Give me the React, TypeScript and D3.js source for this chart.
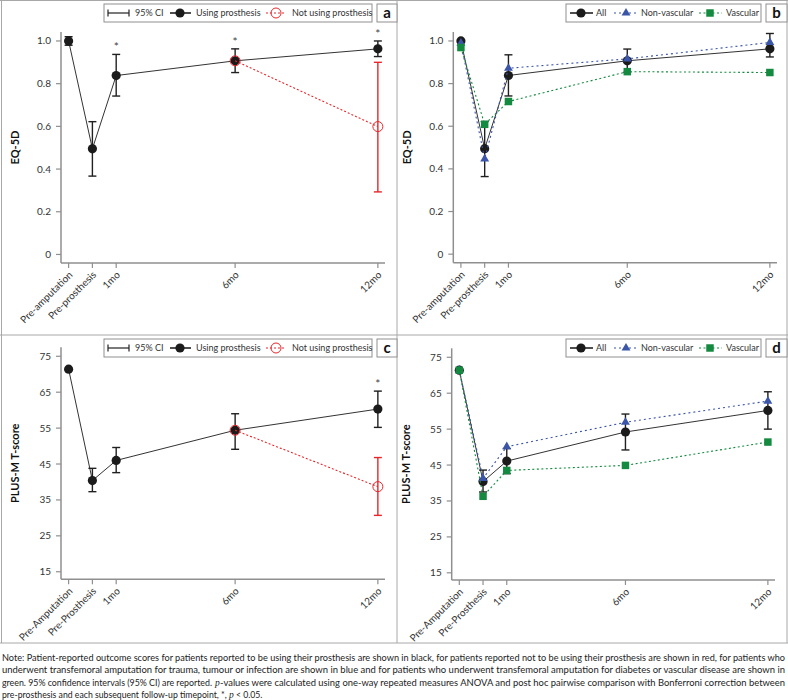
import React from "react";
import * as d3 from "d3";

// time points in months relative to fitting (pre-amputation = -1, pre-prosthesis = 0)
const months = [-1, 0, 1, 6, 12];
const eqLabels = ["Pre-amputation", "Pre-prosthesis", "1mo", "6mo", "12mo"];
const plusLabels = ["Pre-Amputation", "Pre-Prosthesis", "1mo", "6mo", "12mo"];
const eqTicks = [0, 0.2, 0.4, 0.6, 0.8, 1.0];
const plusTicks = [15, 25, 35, 45, 55, 65, 75];

// panel a - EQ-5D by prosthesis use
const eqUsing = [1.0, 0.495, 0.838, 0.907, 0.963];
const eqUsingLo = [0.98, 0.367, 0.742, 0.852, 0.927];
const eqUsingHi = [1.02, 0.622, 0.937, 0.963, 1.0];
const eqNotUsing = [null, null, null, 0.907, 0.599];
const eqNotUsingLo = [null, null, null, null, 0.293];
const eqNotUsingHi = [null, null, null, null, 0.9];
const eqStars = [false, false, true, true, true];

// panel b - EQ-5D by aetiology
const eqAll = [1.0, 0.495, 0.838, 0.907, 0.963];
const eqAllLo = [null, 0.364, 0.742, 0.853, 0.925];
const eqAllHi = [null, 0.622, 0.935, 0.962, 1.035];
const eqNonVasc = [0.99, 0.447, 0.872, 0.916, 0.993];
const eqVasc = [0.969, 0.609, 0.716, 0.856, 0.852];

// panel c - PLUS-M by prosthesis use
const plusUsing = [71.4, 40.4, 46.0, 54.4, 60.3];
const plusUsingLo = [null, 37.3, 42.6, 49.1, 55.2];
const plusUsingHi = [null, 43.8, 49.6, 59.0, 65.3];
const plusNotUsing = [null, null, null, 54.4, 38.7];
const plusNotUsingLo = [null, null, null, null, 30.7];
const plusNotUsingHi = [null, null, null, null, 46.8];
const plusStars = [false, false, false, false, true];

// panel d - PLUS-M by aetiology
const plusAll = [71.4, 40.4, 46.1, 54.2, 60.2];
const plusAllLo = [null, 37.5, 42.6, 49.2, 55.0];
const plusAllHi = [null, 43.6, 49.6, 59.2, 65.4];
const plusNonVasc = [71.4, 41.3, 50.1, 56.9, 62.8];
const plusVasc = [71.4, 36.3, 43.5, 44.9, 51.4];

const FONT = "Lato, 'Open Sans', sans-serif";
const BLACK = "#1b1b1b";
const RED = "#e8262b";
const BLUE = "#3b55a8";
const GREEN = "#138a3f";
const AXIS = "#8f8f8f";
const BORDER = "#a8a8a8";

type Val = number | null;
type Series = {
  vals: Val[];
  lo?: Val[];
  hi?: Val[];
  color: string;
  dash?: string;
  marker: "dot" | "ring" | "tri" | "sq";
};

function Marker({ kind, x, y, color }: { kind: string; x: number; y: number; color: string }) {
  if (kind === "dot") return <circle cx={x} cy={y} r={4.6} fill={color} />;
  if (kind === "ring")
    return <circle cx={x} cy={y} r={5} fill="none" stroke={color} strokeWidth={1} />;
  const sym = d3.symbol().type(kind === "tri" ? d3.symbolTriangle : d3.symbolSquare).size(kind === "tri" ? 34 : 56);
  return <path d={sym() || ""} transform={`translate(${x},${y})`} fill={color} />;
}

type LegendItem = { kind: "ci" | "series"; label: string; s?: Series; x0: number; x1: number; mx: number; tx: number };

function Panel(p: {
  left: number; right: number; top: number; bottom: number;
  yDomain: [number, number]; yTicks: number[]; yFormat: (v: number) => string;
  yTitle: string; titleX: number; xLabels: string[];
  series: Series[]; stars: boolean[];
  legendBox: [number, number, number, number]; legendY: number; legend: LegendItem[];
  letterBox: [number, number]; letter: string;
}) {
  const x = d3.scaleLinear().domain([-1.32, 12.3]).range([p.left, p.right]);
  const y = d3.scaleLinear().domain(p.yDomain).range([p.bottom, p.top]);
  const line = d3
    .line<[number, Val]>()
    .defined((d) => d[1] != null)
    .x((d) => x(d[0]))
    .y((d) => y(d[1] as number));
  const main = p.series[0];
  const cap = 4;

  const errorBars = (s: Series) =>
    months.map((m, i) => {
      const lo = s.lo ? s.lo[i] : null;
      const hi = s.hi ? s.hi[i] : null;
      if (lo == null && hi == null) return null;
      const cx = x(m);
      const y0 = y((lo ?? s.vals[i]) as number);
      const y1 = y((hi ?? s.vals[i]) as number);
      const col = s.color === RED ? RED : "#202020";
      return (
        <g key={"e" + i} stroke={col} strokeWidth={1.4} fill="none">
          <line x1={cx} x2={cx} y1={y0} y2={y1} />
          {lo != null && <line x1={cx - cap} x2={cx + cap} y1={y0} y2={y0} />}
          {hi != null && <line x1={cx - cap} x2={cx + cap} y1={y1} y2={y1} />}
        </g>
      );
    });

  return (
    <g fontFamily={FONT}>
      {/* axes */}
      <line x1={p.left} x2={p.left} y1={p.top} y2={p.bottom} stroke={AXIS} strokeWidth={1.5} />
      <line x1={p.left} x2={p.right} y1={p.bottom} y2={p.bottom} stroke={AXIS} strokeWidth={1.5} />
      {p.yTicks.map((t) => (
        <g key={"y" + t}>
          <line x1={p.left - 5} x2={p.left} y1={y(t)} y2={y(t)} stroke={AXIS} strokeWidth={1.2} />
          <text x={p.left - 10} y={y(t)} dy="0.35em" textAnchor="end" fontSize={10} fill="#333">
            {p.yFormat(t)}
          </text>
        </g>
      ))}
      {months.map((m, i) => (
        <g key={"x" + m}>
          <line x1={x(m)} x2={x(m)} y1={p.bottom} y2={p.bottom + 5} stroke={AXIS} strokeWidth={1.2} />
          <text
            transform={`translate(${x(m) + 2},${p.bottom + 10}) rotate(-45)`}
            dy="0.35em"
            textAnchor="end"
            fontSize={10}
            fill="#333"
          >
            {p.xLabels[i]}
          </text>
        </g>
      ))}
      <text
        transform={`translate(${p.titleX},${(p.top + p.bottom) / 2}) rotate(-90)`}
        textAnchor="middle"
        fontSize={11}
        fontWeight="bold"
        fill="#111"
      >
        {p.yTitle}
      </text>

      {/* series */}
      {p.series.map((s, si) => (
        <g key={"s" + si}>
          <path
            d={line(months.map((m, i) => [m, s.vals[i]] as [number, Val])) || ""}
            fill="none"
            stroke={s.dash ? s.color : "#333"}
            strokeWidth={s.dash ? 1.1 : 1}
            strokeDasharray={s.dash}
          />
          {errorBars(s)}
          {months.map((m, i) =>
            s.vals[i] == null ? null : <Marker key={"m" + i} kind={s.marker} x={x(m)} y={y(s.vals[i] as number)} color={s.color} />
          )}
        </g>
      ))}
      {months.map((m, i) =>
        p.stars[i] ? (
          <text key={"st" + i} x={x(m)} y={y((main.hi as Val[])[i] as number) - 3} textAnchor="middle" fontSize={12} fill="#444">
            *
          </text>
        ) : null
      )}

      {/* legend */}
      <rect x={p.legendBox[0]} y={p.legendBox[1]} width={p.legendBox[2] - p.legendBox[0]} height={p.legendBox[3] - p.legendBox[1]} fill="#fff" stroke={AXIS} strokeWidth={1} />
      {p.legend.map((it, k) => (
        <g key={"l" + k}>
          {it.kind === "ci" ? (
            <g stroke="#222" strokeWidth={1.2}>
              <line x1={it.x0} x2={it.x1} y1={p.legendY} y2={p.legendY} />
              <line x1={it.x0} x2={it.x0} y1={p.legendY - 3.5} y2={p.legendY + 3.5} />
              <line x1={it.x1} x2={it.x1} y1={p.legendY - 3.5} y2={p.legendY + 3.5} />
            </g>
          ) : (
            <g>
              <line
                x1={it.x0}
                x2={it.x1}
                y1={p.legendY}
                y2={p.legendY}
                stroke={it.s!.dash ? it.s!.color : "#222"}
                strokeWidth={it.s!.dash ? 1.1 : 1.6}
                strokeDasharray={it.s!.dash}
              />
              <Marker kind={it.s!.marker} x={it.mx} y={p.legendY} color={it.s!.color} />
            </g>
          )}
          <text x={it.tx} y={p.legendY} dy="0.35em" fontSize={9} fill="#333">
            {it.label}
          </text>
        </g>
      ))}
      <rect x={p.letterBox[0]} y={p.legendBox[1]} width={p.letterBox[1] - p.letterBox[0]} height={p.legendBox[3] - p.legendBox[1]} fill="#fff" stroke={AXIS} strokeWidth={1} />
      <text x={(p.letterBox[0] + p.letterBox[1]) / 2} y={(p.legendBox[1] + p.legendBox[3]) / 2} dy="0.36em" textAnchor="middle" fontSize={15} fontWeight="bold" fill="#111">
        {p.letter}
      </text>
    </g>
  );
}

export default function App() {
  const sUsingEq: Series = { vals: eqUsing, lo: eqUsingLo, hi: eqUsingHi, color: BLACK, marker: "dot" };
  const sNotEq: Series = { vals: eqNotUsing, lo: eqNotUsingLo, hi: eqNotUsingHi, color: RED, dash: "2,2", marker: "ring" };
  const sAllEq: Series = { vals: eqAll, lo: eqAllLo, hi: eqAllHi, color: BLACK, marker: "dot" };
  const sNvEq: Series = { vals: eqNonVasc, color: BLUE, dash: "2,3", marker: "tri" };
  const sVEq: Series = { vals: eqVasc, color: GREEN, dash: "2,2.5", marker: "sq" };

  const sUsingPl: Series = { vals: plusUsing, lo: plusUsingLo, hi: plusUsingHi, color: BLACK, marker: "dot" };
  const sNotPl: Series = { vals: plusNotUsing, lo: plusNotUsingLo, hi: plusNotUsingHi, color: RED, dash: "2,2", marker: "ring" };
  const sAllPl: Series = { vals: plusAll, lo: plusAllLo, hi: plusAllHi, color: BLACK, marker: "dot" };
  const sNvPl: Series = { vals: plusNonVasc, color: BLUE, dash: "2,3", marker: "tri" };
  const sVPl: Series = { vals: plusVasc, color: GREEN, dash: "2,2.5", marker: "sq" };

  const useLegend = (a: Series, b: Series): LegendItem[] => [
    { kind: "ci", label: "95% CI", x0: 108, x1: 129, mx: 0, tx: 135 },
    { kind: "series", label: "Using prosthesis", s: a, x0: 170, x1: 191, mx: 180, tx: 196 },
    { kind: "series", label: "Not using prosthesis", s: b, x0: 266, x1: 286, mx: 276, tx: 292 },
  ];
  const groupLegend = (a: Series, b: Series, c: Series): LegendItem[] => [
    { kind: "series", label: "All", s: a, x0: 570, x1: 593, mx: 581, tx: 596 },
    { kind: "series", label: "Non-vascular", s: b, x0: 614, x1: 637, mx: 626, tx: 641 },
    { kind: "series", label: "Vascular", s: c, x0: 699, x1: 722, mx: 710, tx: 726 },
  ];

  const fmtEq = (v: number) => (v === 0 ? "0" : d3.format(".1f")(v));
  const fmtPl = (v: number) => String(v);
  const ital = "'Liberation Serif', serif";

  return (
    <svg width={788} height={700} style={{ position: "absolute", left: 0, top: 0, background: "#fff" }}>
      {/* panel frame */}
      <g stroke={BORDER} strokeWidth={1} fill="none">
        <line x1={0} x2={788} y1={0.5} y2={0.5} />
        <line x1={0} x2={788} y1={335} y2={335} />
        <line x1={0} x2={788} y1={643} y2={643} />
        <line x1={1.5} x2={1.5} y1={0} y2={643} />
        <line x1={397} x2={397} y1={0} y2={643} />
        <line x1={787} x2={787} y1={0} y2={643} />
      </g>

      <Panel
        left={61} right={385} top={32} bottom={263}
        yDomain={[-0.04, 1.042]} yTicks={eqTicks} yFormat={fmtEq}
        yTitle="EQ-5D" titleX={19} xLabels={eqLabels}
        series={[sUsingEq, sNotEq]} stars={eqStars}
        legendBox={[104, 4, 372, 22]} legendY={13} legend={useLegend(sUsingEq, sNotEq)}
        letterBox={[377, 397]} letter="a"
      />
      <Panel
        left={453.3} right={777} top={32} bottom={262.7}
        yDomain={[-0.04, 1.042]} yTicks={eqTicks} yFormat={fmtEq}
        yTitle="EQ-5D" titleX={411} xLabels={eqLabels}
        series={[sAllEq, sNvEq, sVEq]} stars={[false, false, false, false, false]}
        legendBox={[566, 4, 761, 22]} legendY={13} legend={groupLegend(sAllEq, sNvEq, sVEq)}
        letterBox={[766, 787]} letter="b"
      />
      <Panel
        left={61} right={385} top={347.3} bottom={579.3}
        yDomain={[12.9, 77.5]} yTicks={plusTicks} yFormat={fmtPl}
        yTitle="PLUS-M T-score" titleX={19} xLabels={plusLabels}
        series={[sUsingPl, sNotPl]} stars={plusStars}
        legendBox={[104, 339, 372, 357]} legendY={348} legend={useLegend(sUsingPl, sNotPl)}
        letterBox={[377, 397]} letter="c"
      />
      <Panel
        left={451.7} right={775} top={348.3} bottom={580}
        yDomain={[13.0, 77.5]} yTicks={plusTicks} yFormat={fmtPl}
        yTitle="PLUS-M T-score" titleX={410} xLabels={plusLabels}
        series={[sAllPl, sNvPl, sVPl]} stars={[false, false, false, false, false]}
        legendBox={[566, 339, 761, 357]} legendY={348} legend={groupLegend(sAllPl, sNvPl, sVPl)}
        letterBox={[766, 787]} letter="d"
      />

      {/* note */}
      <g fontFamily={FONT} fontSize={8.7} fill="#222">
        <text x={2} y={661} textLength={783} lengthAdjust="spacingAndGlyphs">
          Note: Patient-reported outcome scores for patients reported to be using their prosthesis are shown in black, for patients reported not to be using their prosthesis are shown in red, for patients who
        </text>
        <text x={2} y={673.3} textLength={783} lengthAdjust="spacingAndGlyphs">
          underwent transfemoral amputation for trauma, tumour or infection are shown in blue and for patients who underwent transfemoral amputation for diabetes or vascular disease are shown in
        </text>
        <text x={2} y={685.6} textLength={210} lengthAdjust="spacingAndGlyphs">
          green. 95% confidence intervals (95% CI) are reported.
        </text>
        <text x={215} y={685.6} fontStyle="italic" fontFamily={ital} fontSize={9.5}>
          p
        </text>
        <text x={220} y={685.6} textLength={565} lengthAdjust="spacingAndGlyphs">
          -values were calculated using one-way repeated measures ANOVA and post hoc pairwise comparison with Bonferroni correction between
        </text>
        <text x={2} y={697.8}>
          pre-prosthesis and each subsequent follow-up timepoint, *,{" "}
          <tspan fontStyle="italic" fontFamily={ital} fontSize={9.5}>p</tspan> &lt; 0.05.
        </text>
      </g>
    </svg>
  );
}
